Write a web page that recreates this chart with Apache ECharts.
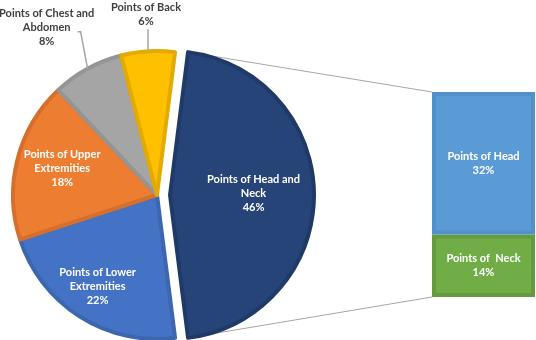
<!DOCTYPE html>
<html>
<head>
<meta charset="utf-8">
<script src="https://cdn.jsdelivr.net/npm/echarts@6/dist/echarts.min.js"></script>
<style>
  html, body { margin: 0; padding: 0; background: #fff; }
  #chart { width: 536px; height: 340px; }
</style>
</head>
<body>
<div id="chart"></div>
<script>
// pie slices (clockwise from the top edge of the exploded slice)
var pieNames = ['Points of Head and\nNeck', 'Points of Lower\nExtremities', 'Points of Upper\nExtremities', 'Points of Chest and\nAbdomen', 'Points of Back'];
var pieValues = [46, 22, 18, 8, 6];
var pieColors = ['#264478', '#4472C4', '#ED7D31', '#A5A5A5', '#FFC000'];
var pieBorders = ['#203A68', '#3C66B0', '#D4702C', '#959595', '#E3AB00'];

// breakdown bar of the exploded slice
var barNames = ['Points of  Neck', 'Points of Head'];
var barValues = [14, 32];
var barColors = ['#70AD47', '#5B9BD5'];
var barBorders = ['#649B3F', '#5190C8'];

var FONT = 'Lato';
var CX = 157, CY = 195, R = 144, EXPLODE = 13;
var GRID_LEFT = 432, GRID_TOP = 92, GRID_W = 103, GRID_H = 205;

var total = pieValues.reduce(function (a, b) { return a + b; }, 0);
var startAngle = pieValues[0] / total * 180; // first slice centred on the right

// mid angles (degrees, ccw from east) for each slice
var midAngles = [];
(function () {
  var a = startAngle;
  pieValues.forEach(function (v) {
    var span = v / total * 360;
    midAngles.push(a - span / 2);
    a -= span;
  });
})();

// inside label distance from centre as a share of the radius
var labelFrac = [0.58, 0.77, 0.68, 0, 0];
// outside labels: guide line bend / end and label centre, relative to slice edge
var outside = {
  3: { guide: [[-7, -37], [-10, -37]], label: [-41, -41] },
  4: { guide: [[0, -22]], label: [-2, -37] }
};

function edgePoint(i) {
  var rad = midAngles[i] * Math.PI / 180;
  return [CX + R * Math.cos(rad), CY - R * Math.sin(rad)];
}

var myChart = echarts.init(document.getElementById('chart'));

// one pie holds the exploded slice, the other the rest; hidden slices keep the angles
function pieSeries(exploded) {
  var cx = exploded ? CX + EXPLODE : CX;
  return {
    type: 'pie',
    center: [cx, CY],
    radius: [0, R],
    startAngle: startAngle,
    clockwise: true,
    avoidLabelOverlap: false,
    silent: true,
    itemStyle: { borderWidth: 4 },
    label: {
      position: 'inside',
      color: '#fff',
      fontFamily: FONT,
      fontWeight: 'bold',
      fontSize: 11,
      lineHeight: 14,
      formatter: function (p) { return p.name + '\n' + p.value + '%'; }
    },
    labelLine: { show: false },
    labelLayout: function (p) {
      var i = p.dataIndex;
      if (outside[i]) {
        var e = edgePoint(i);
        return { x: e[0] + outside[i].label[0], y: e[1] + outside[i].label[1], align: 'center', verticalAlign: 'middle' };
      }
      var rad = midAngles[i] * Math.PI / 180;
      var d = labelFrac[i] * R;
      return { x: cx + d * Math.cos(rad), y: CY - 2 - d * Math.sin(rad), align: 'center', verticalAlign: 'middle' };
    },
    data: pieValues.map(function (v, i) {
      var visible = (i === 0) === exploded;
      var item = { name: pieNames[i], value: v };
      if (visible) {
        item.itemStyle = { color: pieColors[i], borderColor: pieBorders[i] };
        item.label = { show: true };
        if (outside[i]) item.label = { show: true, position: 'outside', color: '#404040' };
      } else {
        item.itemStyle = { color: 'rgba(0,0,0,0)', borderWidth: 0 };
        item.label = { show: false };
      }
      return item;
    })
  };
}

var barSeries = barValues.map(function (v, i) {
  return {
    name: barNames[i],
    type: 'bar',
    stack: 'detail',
    barWidth: '100%',
    data: [v],
    itemStyle: { color: barColors[i], borderColor: barBorders[i], borderWidth: 4 },
    label: {
      show: true,
      position: 'inside',
      color: '#fff',
      fontFamily: FONT,
      fontWeight: 'bold',
      fontSize: 11,
      lineHeight: 14,
      formatter: barNames[i] + '\n' + v + '%'
    }
  };
});

myChart.setOption({
  animation: false,
  grid: { left: GRID_LEFT, top: GRID_TOP, width: GRID_W, height: GRID_H },
  xAxis: { type: 'category', data: ['detail'], show: false },
  yAxis: { type: 'value', min: 0, max: pieValues[0], show: false },
  series: [pieSeries(false), pieSeries(true)].concat(barSeries)
});

var graphics = [];
// guide lines for the outside labels
Object.keys(outside).forEach(function (k) {
  var e = edgePoint(+k);
  var pts = [e].concat(outside[k].guide.map(function (g) { return [e[0] + g[0], e[1] + g[1]]; }));
  graphics.push({ type: 'polyline', shape: { points: pts }, style: { stroke: '#A6A6A6', lineWidth: 1.5, fill: null }, z: 10 });
});
// connector lines from the exploded slice to the bar
var a0 = startAngle * Math.PI / 180;
var sx = CX + EXPLODE + R * Math.cos(a0);
var topPt = myChart.convertToPixel({ gridIndex: 0 }, ['detail', pieValues[0]]);
var botPt = myChart.convertToPixel({ gridIndex: 0 }, ['detail', 0]);
graphics.push(
  { type: 'line', shape: { x1: sx, y1: CY - R * Math.sin(a0), x2: GRID_LEFT, y2: topPt[1] }, style: { stroke: '#A6A6A6', lineWidth: 1 }, z: 0 },
  { type: 'line', shape: { x1: sx, y1: CY + R * Math.sin(a0), x2: GRID_LEFT, y2: botPt[1] }, style: { stroke: '#A6A6A6', lineWidth: 1 }, z: 0 }
);
myChart.setOption({ graphic: graphics });
</script>
</body>
</html>
